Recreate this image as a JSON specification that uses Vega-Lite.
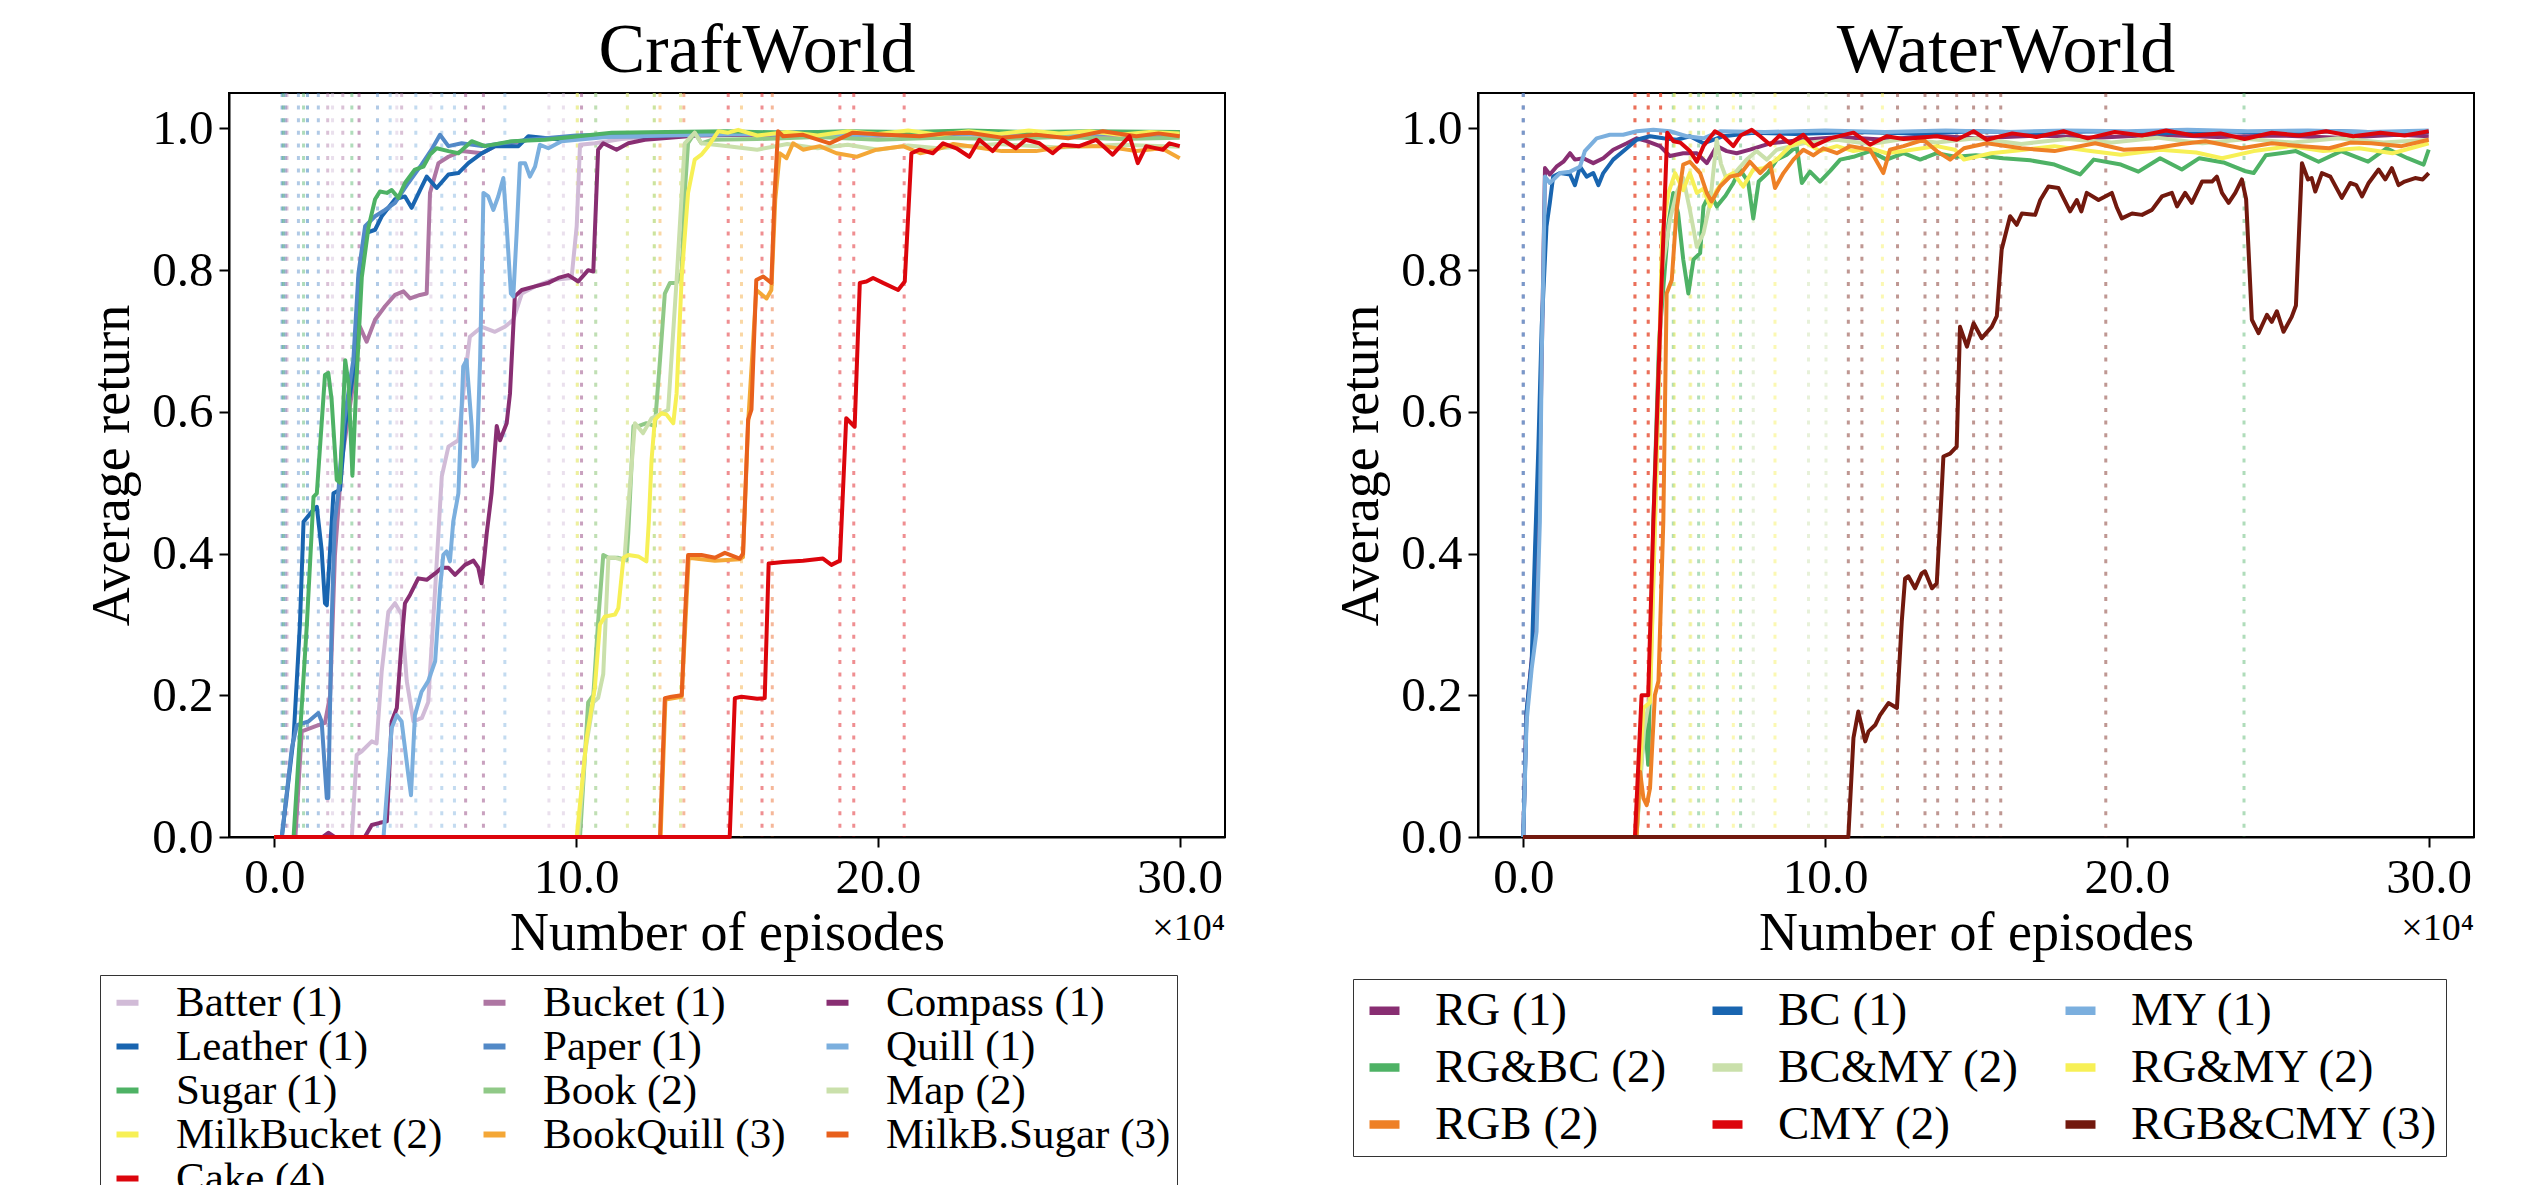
{
  "$schema": "https://vega.github.io/schema/vega-lite/v6.json",
  "background": "white",
  "padding": {"left": 84, "top": 14, "right": 40, "bottom": 0},
  "spacing": 107,
  "resolve": {"scale": {"color": "independent", "stroke": "independent"}, "legend": {"color": "independent", "stroke": "independent"}},
  "datasets": {
    "craftV": [
      {"t":"Leather (1)","x":0.26},{"t":"Sugar (1)","x":0.31},{"t":"Paper (1)","x":0.37},{"t":"Bucket (1)","x":0.42},
      {"t":"Paper (1)","x":0.8},{"t":"Sugar (1)","x":0.97},{"t":"Leather (1)","x":1.1},{"t":"Paper (1)","x":1.46},
      {"t":"Bucket (1)","x":1.77},{"t":"Batter (1)","x":1.93},{"t":"Bucket (1)","x":2.27},{"t":"Sugar (1)","x":2.57},
      {"t":"Compass (1)","x":2.81},{"t":"Paper (1)","x":3.42},{"t":"Quill (1)","x":3.84},{"t":"Batter (1)","x":4.06},
      {"t":"Bucket (1)","x":4.22},{"t":"Quill (1)","x":4.69},{"t":"Batter (1)","x":5.19},{"t":"Quill (1)","x":5.55},
      {"t":"Quill (1)","x":5.97},{"t":"Compass (1)","x":6.34},{"t":"Compass (1)","x":6.93},{"t":"Quill (1)","x":7.64},
      {"t":"Batter (1)","x":9.1},{"t":"Batter (1)","x":9.58},{"t":"Map (2)","x":10.04},{"t":"MilkBucket (2)","x":10.04},
      {"t":"Compass (1)","x":10.18},{"t":"Map (2)","x":10.65},{"t":"Book (2)","x":10.65},{"t":"MilkBucket (2)","x":11.7},
      {"t":"Map (2)","x":11.7},{"t":"MilkBucket (2)","x":12.59},{"t":"Book (2)","x":12.59},{"t":"BookQuill (3)","x":12.78},
      {"t":"MilkBucket (2)","x":13.46},{"t":"Map (2)","x":13.46},{"t":"MilkB.Sugar (3)","x":13.57},{"t":"Cake (4)","x":15.04},
      {"t":"BookQuill (3)","x":15.48},{"t":"Cake (4)","x":16.16},{"t":"MilkB.Sugar (3)","x":16.5},{"t":"Cake (4)","x":18.74},
      {"t":"Cake (4)","x":19.2},{"t":"Cake (4)","x":20.87}
    ],
    "craft": [
      {"t":"Batter (1)","x":0,"y":0},{"t":"Batter (1)","x":2.57,"y":0},{"t":"Batter (1)","x":2.73,"y":0.116},{"t":"Batter (1)","x":2.9,"y":0.121},{"t":"Batter (1)","x":3.23,"y":0.135},{"t":"Batter (1)","x":3.39,"y":0.132},{"t":"Batter (1)","x":3.56,"y":0.234},{"t":"Batter (1)","x":3.78,"y":0.318},{"t":"Batter (1)","x":4.0,"y":0.33},{"t":"Batter (1)","x":4.22,"y":0.314},{"t":"Batter (1)","x":4.39,"y":0.22},{"t":"Batter (1)","x":4.61,"y":0.163},{"t":"Batter (1)","x":4.89,"y":0.168},{"t":"Batter (1)","x":5.1,"y":0.19},{"t":"Batter (1)","x":5.33,"y":0.35},{"t":"Batter (1)","x":5.55,"y":0.509},{"t":"Batter (1)","x":5.77,"y":0.551},{"t":"Batter (1)","x":6.1,"y":0.56},{"t":"Batter (1)","x":6.32,"y":0.65},{"t":"Batter (1)","x":6.48,"y":0.706},{"t":"Batter (1)","x":6.88,"y":0.72},{"t":"Batter (1)","x":7.31,"y":0.713},{"t":"Batter (1)","x":7.64,"y":0.72},{"t":"Batter (1)","x":7.92,"y":0.73},{"t":"Batter (1)","x":8.2,"y":0.767},{"t":"Batter (1)","x":8.64,"y":0.777},{"t":"Batter (1)","x":9.19,"y":0.786},{"t":"Batter (1)","x":9.85,"y":0.789},{"t":"Batter (1)","x":10.02,"y":0.862},{"t":"Batter (1)","x":10.13,"y":0.977},{"t":"Batter (1)","x":10.62,"y":0.979},{"t":"Batter (1)","x":11.5,"y":0.985},{"t":"Batter (1)","x":13,"y":0.99},{"t":"Batter (1)","x":15,"y":0.992},{"t":"Batter (1)","x":18,"y":0.99},{"t":"Batter (1)","x":21,"y":0.993},{"t":"Batter (1)","x":24,"y":0.991},{"t":"Batter (1)","x":27,"y":0.993},{"t":"Batter (1)","x":30,"y":0.992},
      {"t":"Bucket (1)","x":0,"y":0},{"t":"Bucket (1)","x":0.7,"y":0},{"t":"Bucket (1)","x":0.91,"y":0.149},{"t":"Bucket (1)","x":1.35,"y":0.156},{"t":"Bucket (1)","x":1.68,"y":0.161},{"t":"Bucket (1)","x":1.85,"y":0.2},{"t":"Bucket (1)","x":2.01,"y":0.398},{"t":"Bucket (1)","x":2.24,"y":0.532},{"t":"Bucket (1)","x":2.57,"y":0.626},{"t":"Bucket (1)","x":2.84,"y":0.72},{"t":"Bucket (1)","x":3.06,"y":0.699},{"t":"Bucket (1)","x":3.34,"y":0.73},{"t":"Bucket (1)","x":3.67,"y":0.749},{"t":"Bucket (1)","x":4.0,"y":0.765},{"t":"Bucket (1)","x":4.28,"y":0.77},{"t":"Bucket (1)","x":4.5,"y":0.76},{"t":"Bucket (1)","x":4.83,"y":0.765},{"t":"Bucket (1)","x":5.05,"y":0.767},{"t":"Bucket (1)","x":5.16,"y":0.909},{"t":"Bucket (1)","x":5.44,"y":0.951},{"t":"Bucket (1)","x":5.77,"y":0.96},{"t":"Bucket (1)","x":6.21,"y":0.968},{"t":"Bucket (1)","x":6.88,"y":0.965},{"t":"Bucket (1)","x":7.31,"y":0.975},{"t":"Bucket (1)","x":8.42,"y":0.984},{"t":"Bucket (1)","x":10,"y":0.988},{"t":"Bucket (1)","x":12,"y":0.99},{"t":"Bucket (1)","x":15,"y":0.992},{"t":"Bucket (1)","x":18,"y":0.99},{"t":"Bucket (1)","x":21,"y":0.993},{"t":"Bucket (1)","x":24,"y":0.991},{"t":"Bucket (1)","x":27,"y":0.992},{"t":"Bucket (1)","x":30,"y":0.99},
      {"t":"Compass (1)","x":0,"y":0},{"t":"Compass (1)","x":1.6,"y":0},{"t":"Compass (1)","x":1.79,"y":0.006},{"t":"Compass (1)","x":2.0,"y":0},{"t":"Compass (1)","x":3.0,"y":0},{"t":"Compass (1)","x":3.23,"y":0.017},{"t":"Compass (1)","x":3.5,"y":0.02},{"t":"Compass (1)","x":3.73,"y":0.022},{"t":"Compass (1)","x":3.89,"y":0.163},{"t":"Compass (1)","x":4.06,"y":0.182},{"t":"Compass (1)","x":4.22,"y":0.276},{"t":"Compass (1)","x":4.33,"y":0.33},{"t":"Compass (1)","x":4.5,"y":0.342},{"t":"Compass (1)","x":4.77,"y":0.365},{"t":"Compass (1)","x":5.05,"y":0.363},{"t":"Compass (1)","x":5.33,"y":0.372},{"t":"Compass (1)","x":5.55,"y":0.38},{"t":"Compass (1)","x":5.77,"y":0.38},{"t":"Compass (1)","x":5.99,"y":0.37},{"t":"Compass (1)","x":6.32,"y":0.384},{"t":"Compass (1)","x":6.6,"y":0.39},{"t":"Compass (1)","x":6.76,"y":0.38},{"t":"Compass (1)","x":6.87,"y":0.358},{"t":"Compass (1)","x":6.98,"y":0.403},{"t":"Compass (1)","x":7.04,"y":0.429},{"t":"Compass (1)","x":7.2,"y":0.485},{"t":"Compass (1)","x":7.37,"y":0.58},{"t":"Compass (1)","x":7.48,"y":0.56},{"t":"Compass (1)","x":7.7,"y":0.584},{"t":"Compass (1)","x":7.81,"y":0.626},{"t":"Compass (1)","x":7.97,"y":0.763},{"t":"Compass (1)","x":8.2,"y":0.772},{"t":"Compass (1)","x":8.64,"y":0.777},{"t":"Compass (1)","x":9.08,"y":0.782},{"t":"Compass (1)","x":9.41,"y":0.789},{"t":"Compass (1)","x":9.74,"y":0.793},{"t":"Compass (1)","x":10.07,"y":0.784},{"t":"Compass (1)","x":10.4,"y":0.8},{"t":"Compass (1)","x":10.57,"y":0.798},{"t":"Compass (1)","x":10.73,"y":0.97},{"t":"Compass (1)","x":10.9,"y":0.979},{"t":"Compass (1)","x":11.34,"y":0.97},{"t":"Compass (1)","x":11.73,"y":0.979},{"t":"Compass (1)","x":12.28,"y":0.984},{"t":"Compass (1)","x":14,"y":0.99},{"t":"Compass (1)","x":17,"y":0.992},{"t":"Compass (1)","x":20,"y":0.99},{"t":"Compass (1)","x":23,"y":0.993},{"t":"Compass (1)","x":26,"y":0.991},{"t":"Compass (1)","x":30,"y":0.992},
      {"t":"Leather (1)","x":0,"y":0},{"t":"Leather (1)","x":0.25,"y":0},{"t":"Leather (1)","x":0.64,"y":0.14},{"t":"Leather (1)","x":0.85,"y":0.3},{"t":"Leather (1)","x":0.97,"y":0.445},{"t":"Leather (1)","x":1.3,"y":0.462},{"t":"Leather (1)","x":1.41,"y":0.466},{"t":"Leather (1)","x":1.57,"y":0.405},{"t":"Leather (1)","x":1.68,"y":0.33},{"t":"Leather (1)","x":1.74,"y":0.327},{"t":"Leather (1)","x":1.96,"y":0.485},{"t":"Leather (1)","x":2.18,"y":0.49},{"t":"Leather (1)","x":2.35,"y":0.58},{"t":"Leather (1)","x":2.68,"y":0.673},{"t":"Leather (1)","x":2.79,"y":0.786},{"t":"Leather (1)","x":3.01,"y":0.852},{"t":"Leather (1)","x":3.34,"y":0.857},{"t":"Leather (1)","x":3.56,"y":0.876},{"t":"Leather (1)","x":4.0,"y":0.9},{"t":"Leather (1)","x":4.33,"y":0.904},{"t":"Leather (1)","x":4.55,"y":0.888},{"t":"Leather (1)","x":4.83,"y":0.913},{"t":"Leather (1)","x":5.05,"y":0.932},{"t":"Leather (1)","x":5.38,"y":0.916},{"t":"Leather (1)","x":5.77,"y":0.935},{"t":"Leather (1)","x":6.1,"y":0.937},{"t":"Leather (1)","x":6.43,"y":0.951},{"t":"Leather (1)","x":6.88,"y":0.965},{"t":"Leather (1)","x":7.31,"y":0.975},{"t":"Leather (1)","x":8.09,"y":0.975},{"t":"Leather (1)","x":8.42,"y":0.989},{"t":"Leather (1)","x":9.52,"y":0.984},{"t":"Leather (1)","x":10.62,"y":0.989},{"t":"Leather (1)","x":12.28,"y":0.989},{"t":"Leather (1)","x":15,"y":0.994},{"t":"Leather (1)","x":18,"y":0.993},{"t":"Leather (1)","x":21,"y":0.995},{"t":"Leather (1)","x":24,"y":0.993},{"t":"Leather (1)","x":27,"y":0.995},{"t":"Leather (1)","x":30,"y":0.994},
      {"t":"Paper (1)","x":0,"y":0},{"t":"Paper (1)","x":0.25,"y":0},{"t":"Paper (1)","x":0.58,"y":0.125},{"t":"Paper (1)","x":0.75,"y":0.158},{"t":"Paper (1)","x":1.13,"y":0.163},{"t":"Paper (1)","x":1.46,"y":0.175},{"t":"Paper (1)","x":1.57,"y":0.163},{"t":"Paper (1)","x":1.74,"y":0.055},{"t":"Paper (1)","x":1.79,"y":0.055},{"t":"Paper (1)","x":1.9,"y":0.3},{"t":"Paper (1)","x":2.0,"y":0.445},{"t":"Paper (1)","x":2.12,"y":0.485},{"t":"Paper (1)","x":2.29,"y":0.58},{"t":"Paper (1)","x":2.62,"y":0.673},{"t":"Paper (1)","x":2.79,"y":0.796},{"t":"Paper (1)","x":3.01,"y":0.862},{"t":"Paper (1)","x":3.34,"y":0.876},{"t":"Paper (1)","x":3.67,"y":0.885},{"t":"Paper (1)","x":4.0,"y":0.895},{"t":"Paper (1)","x":4.44,"y":0.923},{"t":"Paper (1)","x":4.88,"y":0.949},{"t":"Paper (1)","x":5.21,"y":0.97},{"t":"Paper (1)","x":5.49,"y":0.991},{"t":"Paper (1)","x":5.77,"y":0.975},{"t":"Paper (1)","x":6.21,"y":0.979},{"t":"Paper (1)","x":6.88,"y":0.975},{"t":"Paper (1)","x":8.42,"y":0.984},{"t":"Paper (1)","x":10,"y":0.99},{"t":"Paper (1)","x":12,"y":0.992},{"t":"Paper (1)","x":15,"y":0.993},{"t":"Paper (1)","x":18,"y":0.995},{"t":"Paper (1)","x":21,"y":0.993},{"t":"Paper (1)","x":24,"y":0.995},{"t":"Paper (1)","x":27,"y":0.994},{"t":"Paper (1)","x":30,"y":0.995},
      {"t":"Quill (1)","x":0,"y":0},{"t":"Quill (1)","x":3.62,"y":0},{"t":"Quill (1)","x":3.89,"y":0.154},{"t":"Quill (1)","x":4.06,"y":0.172},{"t":"Quill (1)","x":4.22,"y":0.163},{"t":"Quill (1)","x":4.44,"y":0.088},{"t":"Quill (1)","x":4.53,"y":0.059},{"t":"Quill (1)","x":4.66,"y":0.172},{"t":"Quill (1)","x":4.88,"y":0.205},{"t":"Quill (1)","x":5.1,"y":0.22},{"t":"Quill (1)","x":5.33,"y":0.248},{"t":"Quill (1)","x":5.49,"y":0.35},{"t":"Quill (1)","x":5.6,"y":0.398},{"t":"Quill (1)","x":5.71,"y":0.403},{"t":"Quill (1)","x":5.82,"y":0.389},{"t":"Quill (1)","x":5.93,"y":0.445},{"t":"Quill (1)","x":6.1,"y":0.485},{"t":"Quill (1)","x":6.26,"y":0.664},{"t":"Quill (1)","x":6.37,"y":0.673},{"t":"Quill (1)","x":6.54,"y":0.58},{"t":"Quill (1)","x":6.6,"y":0.523},{"t":"Quill (1)","x":6.71,"y":0.532},{"t":"Quill (1)","x":6.82,"y":0.673},{"t":"Quill (1)","x":6.93,"y":0.909},{"t":"Quill (1)","x":7.09,"y":0.904},{"t":"Quill (1)","x":7.26,"y":0.885},{"t":"Quill (1)","x":7.42,"y":0.904},{"t":"Quill (1)","x":7.59,"y":0.93},{"t":"Quill (1)","x":7.7,"y":0.862},{"t":"Quill (1)","x":7.84,"y":0.767},{"t":"Quill (1)","x":7.92,"y":0.763},{"t":"Quill (1)","x":8.03,"y":0.852},{"t":"Quill (1)","x":8.14,"y":0.951},{"t":"Quill (1)","x":8.31,"y":0.951},{"t":"Quill (1)","x":8.47,"y":0.932},{"t":"Quill (1)","x":8.64,"y":0.946},{"t":"Quill (1)","x":8.8,"y":0.977},{"t":"Quill (1)","x":9.08,"y":0.972},{"t":"Quill (1)","x":9.52,"y":0.982},{"t":"Quill (1)","x":11,"y":0.988},{"t":"Quill (1)","x":13,"y":0.99},{"t":"Quill (1)","x":16,"y":0.992},{"t":"Quill (1)","x":19,"y":0.99},{"t":"Quill (1)","x":22,"y":0.993},{"t":"Quill (1)","x":25,"y":0.991},{"t":"Quill (1)","x":28,"y":0.993},{"t":"Quill (1)","x":30,"y":0.992},
      {"t":"Sugar (1)","x":0,"y":0},{"t":"Sugar (1)","x":0.64,"y":0},{"t":"Sugar (1)","x":1.08,"y":0.3},{"t":"Sugar (1)","x":1.3,"y":0.48},{"t":"Sugar (1)","x":1.41,"y":0.485},{"t":"Sugar (1)","x":1.68,"y":0.652},{"t":"Sugar (1)","x":1.79,"y":0.655},{"t":"Sugar (1)","x":1.9,"y":0.617},{"t":"Sugar (1)","x":2.07,"y":0.504},{"t":"Sugar (1)","x":2.18,"y":0.5},{"t":"Sugar (1)","x":2.35,"y":0.673},{"t":"Sugar (1)","x":2.46,"y":0.64},{"t":"Sugar (1)","x":2.59,"y":0.51},{"t":"Sugar (1)","x":2.73,"y":0.65},{"t":"Sugar (1)","x":2.9,"y":0.79},{"t":"Sugar (1)","x":3.12,"y":0.86},{"t":"Sugar (1)","x":3.34,"y":0.9},{"t":"Sugar (1)","x":3.5,"y":0.911},{"t":"Sugar (1)","x":3.73,"y":0.909},{"t":"Sugar (1)","x":3.89,"y":0.913},{"t":"Sugar (1)","x":4.11,"y":0.902},{"t":"Sugar (1)","x":4.33,"y":0.923},{"t":"Sugar (1)","x":4.66,"y":0.942},{"t":"Sugar (1)","x":4.94,"y":0.946},{"t":"Sugar (1)","x":5.16,"y":0.963},{"t":"Sugar (1)","x":5.38,"y":0.972},{"t":"Sugar (1)","x":5.77,"y":0.968},{"t":"Sugar (1)","x":6.1,"y":0.965},{"t":"Sugar (1)","x":6.54,"y":0.982},{"t":"Sugar (1)","x":6.98,"y":0.975},{"t":"Sugar (1)","x":7.86,"y":0.982},{"t":"Sugar (1)","x":8.97,"y":0.984},{"t":"Sugar (1)","x":10.07,"y":0.989},{"t":"Sugar (1)","x":11.18,"y":0.994},{"t":"Sugar (1)","x":13,"y":0.995},{"t":"Sugar (1)","x":15,"y":0.996},{"t":"Sugar (1)","x":17,"y":0.994},{"t":"Sugar (1)","x":19,"y":0.996},{"t":"Sugar (1)","x":21,"y":0.995},{"t":"Sugar (1)","x":23,"y":0.997},{"t":"Sugar (1)","x":25,"y":0.995},{"t":"Sugar (1)","x":27,"y":0.996},{"t":"Sugar (1)","x":30,"y":0.995},
      {"t":"Book (2)","x":0,"y":0},{"t":"Book (2)","x":10.13,"y":0},{"t":"Book (2)","x":10.4,"y":0.19},{"t":"Book (2)","x":10.57,"y":0.2},{"t":"Book (2)","x":10.73,"y":0.304},{"t":"Book (2)","x":10.9,"y":0.398},{"t":"Book (2)","x":11.07,"y":0.394},{"t":"Book (2)","x":11.4,"y":0.394},{"t":"Book (2)","x":11.67,"y":0.391},{"t":"Book (2)","x":11.73,"y":0.43},{"t":"Book (2)","x":11.9,"y":0.58},{"t":"Book (2)","x":12.06,"y":0.58},{"t":"Book (2)","x":12.33,"y":0.584},{"t":"Book (2)","x":12.61,"y":0.58},{"t":"Book (2)","x":12.78,"y":0.673},{"t":"Book (2)","x":12.94,"y":0.767},{"t":"Book (2)","x":13.11,"y":0.782},{"t":"Book (2)","x":13.33,"y":0.782},{"t":"Book (2)","x":13.5,"y":0.796},{"t":"Book (2)","x":13.6,"y":0.909},{"t":"Book (2)","x":13.71,"y":0.979},{"t":"Book (2)","x":13.93,"y":0.994},{"t":"Book (2)","x":14.15,"y":0.979},{"t":"Book (2)","x":14.49,"y":0.984},{"t":"Book (2)","x":16,"y":0.985},{"t":"Book (2)","x":18,"y":0.988},{"t":"Book (2)","x":20,"y":0.984},{"t":"Book (2)","x":22,"y":0.987},{"t":"Book (2)","x":24,"y":0.985},{"t":"Book (2)","x":26,"y":0.988},{"t":"Book (2)","x":28,"y":0.985},{"t":"Book (2)","x":30,"y":0.987},
      {"t":"Map (2)","x":0,"y":0},{"t":"Map (2)","x":10.07,"y":0},{"t":"Map (2)","x":10.3,"y":0.12},{"t":"Map (2)","x":10.57,"y":0.19},{"t":"Map (2)","x":10.73,"y":0.196},{"t":"Map (2)","x":10.9,"y":0.23},{"t":"Map (2)","x":11.07,"y":0.394},{"t":"Map (2)","x":11.3,"y":0.394},{"t":"Map (2)","x":11.6,"y":0.39},{"t":"Map (2)","x":11.7,"y":0.45},{"t":"Map (2)","x":11.95,"y":0.584},{"t":"Map (2)","x":12.22,"y":0.57},{"t":"Map (2)","x":12.5,"y":0.591},{"t":"Map (2)","x":12.83,"y":0.598},{"t":"Map (2)","x":13.05,"y":0.603},{"t":"Map (2)","x":13.33,"y":0.786},{"t":"Map (2)","x":13.6,"y":0.979},{"t":"Map (2)","x":13.93,"y":0.994},{"t":"Map (2)","x":14.15,"y":0.979},{"t":"Map (2)","x":15.04,"y":0.975},{"t":"Map (2)","x":16,"y":0.97},{"t":"Map (2)","x":17,"y":0.978},{"t":"Map (2)","x":18,"y":0.972},{"t":"Map (2)","x":19,"y":0.977},{"t":"Map (2)","x":20,"y":0.97},{"t":"Map (2)","x":21,"y":0.976},{"t":"Map (2)","x":22,"y":0.972},{"t":"Map (2)","x":24,"y":0.978},{"t":"Map (2)","x":26,"y":0.973},{"t":"Map (2)","x":28,"y":0.977},{"t":"Map (2)","x":30,"y":0.974},
      {"t":"MilkBucket (2)","x":0,"y":0},{"t":"MilkBucket (2)","x":10.02,"y":0},{"t":"MilkBucket (2)","x":10.35,"y":0.14},{"t":"MilkBucket (2)","x":10.62,"y":0.21},{"t":"MilkBucket (2)","x":10.79,"y":0.3},{"t":"MilkBucket (2)","x":10.95,"y":0.311},{"t":"MilkBucket (2)","x":11.29,"y":0.314},{"t":"MilkBucket (2)","x":11.4,"y":0.323},{"t":"MilkBucket (2)","x":11.57,"y":0.394},{"t":"MilkBucket (2)","x":11.73,"y":0.398},{"t":"MilkBucket (2)","x":12.06,"y":0.396},{"t":"MilkBucket (2)","x":12.33,"y":0.389},{"t":"MilkBucket (2)","x":12.41,"y":0.445},{"t":"MilkBucket (2)","x":12.5,"y":0.532},{"t":"MilkBucket (2)","x":12.61,"y":0.589},{"t":"MilkBucket (2)","x":12.83,"y":0.598},{"t":"MilkBucket (2)","x":13.0,"y":0.596},{"t":"MilkBucket (2)","x":13.22,"y":0.584},{"t":"MilkBucket (2)","x":13.33,"y":0.626},{"t":"MilkBucket (2)","x":13.5,"y":0.791},{"t":"MilkBucket (2)","x":13.71,"y":0.909},{"t":"MilkBucket (2)","x":13.93,"y":0.956},{"t":"MilkBucket (2)","x":14.15,"y":0.963},{"t":"MilkBucket (2)","x":14.38,"y":0.975},{"t":"MilkBucket (2)","x":14.71,"y":0.996},{"t":"MilkBucket (2)","x":15.04,"y":0.994},{"t":"MilkBucket (2)","x":15.37,"y":0.998},{"t":"MilkBucket (2)","x":16,"y":0.99},{"t":"MilkBucket (2)","x":17,"y":0.995},{"t":"MilkBucket (2)","x":18,"y":0.99},{"t":"MilkBucket (2)","x":19,"y":0.996},{"t":"MilkBucket (2)","x":20,"y":0.992},{"t":"MilkBucket (2)","x":21,"y":0.997},{"t":"MilkBucket (2)","x":22,"y":0.991},{"t":"MilkBucket (2)","x":23,"y":0.996},{"t":"MilkBucket (2)","x":24,"y":0.992},{"t":"MilkBucket (2)","x":25,"y":0.997},{"t":"MilkBucket (2)","x":26,"y":0.993},{"t":"MilkBucket (2)","x":27,"y":0.996},{"t":"MilkBucket (2)","x":28,"y":0.991},{"t":"MilkBucket (2)","x":29,"y":0.995},{"t":"MilkBucket (2)","x":30,"y":0.993},
      {"t":"BookQuill (3)","x":0,"y":0},{"t":"BookQuill (3)","x":12.8,"y":0},{"t":"BookQuill (3)","x":12.96,"y":0.194},{"t":"BookQuill (3)","x":13.5,"y":0.198},{"t":"BookQuill (3)","x":13.62,"y":0.3},{"t":"BookQuill (3)","x":13.73,"y":0.394},{"t":"BookQuill (3)","x":14.15,"y":0.392},{"t":"BookQuill (3)","x":14.6,"y":0.39},{"t":"BookQuill (3)","x":15.42,"y":0.392},{"t":"BookQuill (3)","x":15.53,"y":0.395},{"t":"BookQuill (3)","x":15.7,"y":0.584},{"t":"BookQuill (3)","x":15.97,"y":0.772},{"t":"BookQuill (3)","x":16.31,"y":0.76},{"t":"BookQuill (3)","x":16.47,"y":0.772},{"t":"BookQuill (3)","x":16.6,"y":0.9},{"t":"BookQuill (3)","x":16.75,"y":0.965},{"t":"BookQuill (3)","x":16.97,"y":0.958},{"t":"BookQuill (3)","x":17.19,"y":0.979},{"t":"BookQuill (3)","x":17.52,"y":0.97},{"t":"BookQuill (3)","x":18.07,"y":0.975},{"t":"BookQuill (3)","x":18.63,"y":0.965},{"t":"BookQuill (3)","x":19.29,"y":0.96},{"t":"BookQuill (3)","x":19.95,"y":0.97},{"t":"BookQuill (3)","x":20.83,"y":0.975},{"t":"BookQuill (3)","x":21.4,"y":0.965},{"t":"BookQuill (3)","x":21.93,"y":0.97},{"t":"BookQuill (3)","x":22.5,"y":0.978},{"t":"BookQuill (3)","x":23.03,"y":0.975},{"t":"BookQuill (3)","x":24.1,"y":0.968},{"t":"BookQuill (3)","x":25.24,"y":0.968},{"t":"BookQuill (3)","x":26.3,"y":0.975},{"t":"BookQuill (3)","x":27.45,"y":0.975},{"t":"BookQuill (3)","x":28.56,"y":0.968},{"t":"BookQuill (3)","x":29.4,"y":0.972},{"t":"BookQuill (3)","x":30,"y":0.958},
      {"t":"MilkB.Sugar (3)","x":0,"y":0},{"t":"MilkB.Sugar (3)","x":12.78,"y":0},{"t":"MilkB.Sugar (3)","x":12.94,"y":0.196},{"t":"MilkB.Sugar (3)","x":13.16,"y":0.198},{"t":"MilkB.Sugar (3)","x":13.5,"y":0.2},{"t":"MilkB.Sugar (3)","x":13.6,"y":0.304},{"t":"MilkB.Sugar (3)","x":13.71,"y":0.398},{"t":"MilkB.Sugar (3)","x":14.15,"y":0.398},{"t":"MilkB.Sugar (3)","x":14.6,"y":0.394},{"t":"MilkB.Sugar (3)","x":14.93,"y":0.401},{"t":"MilkB.Sugar (3)","x":15.42,"y":0.393},{"t":"MilkB.Sugar (3)","x":15.53,"y":0.4},{"t":"MilkB.Sugar (3)","x":15.7,"y":0.589},{"t":"MilkB.Sugar (3)","x":15.81,"y":0.603},{"t":"MilkB.Sugar (3)","x":15.97,"y":0.786},{"t":"MilkB.Sugar (3)","x":16.2,"y":0.791},{"t":"MilkB.Sugar (3)","x":16.47,"y":0.782},{"t":"MilkB.Sugar (3)","x":16.58,"y":0.909},{"t":"MilkB.Sugar (3)","x":16.69,"y":0.996},{"t":"MilkB.Sugar (3)","x":16.86,"y":0.989},{"t":"MilkB.Sugar (3)","x":17.52,"y":0.991},{"t":"MilkB.Sugar (3)","x":18.4,"y":0.979},{"t":"MilkB.Sugar (3)","x":19.17,"y":0.994},{"t":"MilkB.Sugar (3)","x":20.27,"y":0.991},{"t":"MilkB.Sugar (3)","x":21.38,"y":0.989},{"t":"MilkB.Sugar (3)","x":22.2,"y":0.993},{"t":"MilkB.Sugar (3)","x":23.03,"y":0.994},{"t":"MilkB.Sugar (3)","x":24.1,"y":0.987},{"t":"MilkB.Sugar (3)","x":25.24,"y":0.991},{"t":"MilkB.Sugar (3)","x":26.3,"y":0.986},{"t":"MilkB.Sugar (3)","x":27.45,"y":0.996},{"t":"MilkB.Sugar (3)","x":28.56,"y":0.989},{"t":"MilkB.Sugar (3)","x":29.3,"y":0.993},{"t":"MilkB.Sugar (3)","x":30,"y":0.989},
      {"t":"Cake (4)","x":0,"y":0},{"t":"Cake (4)","x":15.09,"y":0},{"t":"Cake (4)","x":15.26,"y":0.196},{"t":"Cake (4)","x":15.48,"y":0.198},{"t":"Cake (4)","x":16.0,"y":0.195},{"t":"Cake (4)","x":16.25,"y":0.196},{"t":"Cake (4)","x":16.38,"y":0.386},{"t":"Cake (4)","x":16.86,"y":0.388},{"t":"Cake (4)","x":17.52,"y":0.39},{"t":"Cake (4)","x":18.18,"y":0.393},{"t":"Cake (4)","x":18.46,"y":0.384},{"t":"Cake (4)","x":18.74,"y":0.39},{"t":"Cake (4)","x":18.95,"y":0.591},{"t":"Cake (4)","x":19.23,"y":0.579},{"t":"Cake (4)","x":19.4,"y":0.782},{"t":"Cake (4)","x":19.62,"y":0.784},{"t":"Cake (4)","x":19.84,"y":0.789},{"t":"Cake (4)","x":20.17,"y":0.782},{"t":"Cake (4)","x":20.67,"y":0.772},{"t":"Cake (4)","x":20.89,"y":0.784},{"t":"Cake (4)","x":21.11,"y":0.965},{"t":"Cake (4)","x":21.38,"y":0.97},{"t":"Cake (4)","x":21.82,"y":0.965},{"t":"Cake (4)","x":22.16,"y":0.979},{"t":"Cake (4)","x":22.6,"y":0.972},{"t":"Cake (4)","x":23.03,"y":0.96},{"t":"Cake (4)","x":23.36,"y":0.984},{"t":"Cake (4)","x":23.8,"y":0.968},{"t":"Cake (4)","x":24.13,"y":0.984},{"t":"Cake (4)","x":24.57,"y":0.972},{"t":"Cake (4)","x":24.9,"y":0.984},{"t":"Cake (4)","x":25.35,"y":0.979},{"t":"Cake (4)","x":25.79,"y":0.965},{"t":"Cake (4)","x":26.12,"y":0.977},{"t":"Cake (4)","x":26.67,"y":0.975},{"t":"Cake (4)","x":27.23,"y":0.984},{"t":"Cake (4)","x":27.78,"y":0.963},{"t":"Cake (4)","x":28.34,"y":0.989},{"t":"Cake (4)","x":28.61,"y":0.951},{"t":"Cake (4)","x":28.89,"y":0.975},{"t":"Cake (4)","x":29.44,"y":0.97},{"t":"Cake (4)","x":29.66,"y":0.979},{"t":"Cake (4)","x":30,"y":0.975}
    ],
    "waterV": [
      {"t":"RG (1)","x":0},{"t":"BC (1)","x":0},{"t":"MY (1)","x":0},
      {"t":"RGB (2)","x":3.7},{"t":"CMY (2)","x":3.7},{"t":"RGB (2)","x":4.14},{"t":"CMY (2)","x":4.14},{"t":"RGB (2)","x":4.55},{"t":"CMY (2)","x":4.55},
      {"t":"RG&BC (2)","x":4.97},{"t":"RG&MY (2)","x":5.01},{"t":"BC&MY (2)","x":5.52},{"t":"RG&MY (2)","x":5.55},{"t":"RG&BC (2)","x":5.81},{"t":"RG&MY (2)","x":5.97},
      {"t":"RG&BC (2)","x":6.43},{"t":"RG&MY (2)","x":6.96},{"t":"RG&BC (2)","x":7.2},{"t":"BC&MY (2)","x":7.62},{"t":"RG&MY (2)","x":8.34},{"t":"BC&MY (2)","x":9.45},{"t":"BC&MY (2)","x":10.03},
      {"t":"RGB&CMY (3)","x":10.77},{"t":"RGB&CMY (3)","x":11.22},{"t":"RG&MY (2)","x":11.9},{"t":"RGB&CMY (3)","x":12.4},{"t":"RGB&CMY (3)","x":13.31},{"t":"RGB&CMY (3)","x":13.73},
      {"t":"RGB&CMY (3)","x":14.36},{"t":"RGB&CMY (3)","x":14.92},{"t":"RGB&CMY (3)","x":15.36},{"t":"RGB&CMY (3)","x":15.82},{"t":"RGB&CMY (3)","x":19.3},{"t":"RG&BC (2)","x":23.88}
    ],
    "water": [
      {"t":"RG (1)","x":0,"y":0},{"t":"RG (1)","x":0.1,"y":0.17},{"t":"RG (1)","x":0.3,"y":0.26},{"t":"RG (1)","x":0.45,"y":0.35},{"t":"RG (1)","x":0.58,"y":0.6},{"t":"RG (1)","x":0.72,"y":0.944},{"t":"RG (1)","x":0.88,"y":0.935},{"t":"RG (1)","x":1.1,"y":0.946},{"t":"RG (1)","x":1.33,"y":0.953},{"t":"RG (1)","x":1.55,"y":0.965},{"t":"RG (1)","x":1.71,"y":0.956},{"t":"RG (1)","x":1.99,"y":0.958},{"t":"RG (1)","x":2.32,"y":0.951},{"t":"RG (1)","x":2.65,"y":0.958},{"t":"RG (1)","x":2.98,"y":0.97},{"t":"RG (1)","x":3.43,"y":0.979},{"t":"RG (1)","x":3.76,"y":0.986},{"t":"RG (1)","x":4.09,"y":0.982},{"t":"RG (1)","x":4.53,"y":0.975},{"t":"RG (1)","x":4.86,"y":0.961},{"t":"RG (1)","x":5.3,"y":0.965},{"t":"RG (1)","x":5.75,"y":0.965},{"t":"RG (1)","x":6.08,"y":0.951},{"t":"RG (1)","x":6.41,"y":0.975},{"t":"RG (1)","x":6.74,"y":0.968},{"t":"RG (1)","x":7.07,"y":0.965},{"t":"RG (1)","x":7.51,"y":0.97},{"t":"RG (1)","x":8.18,"y":0.979},{"t":"RG (1)","x":9.28,"y":0.984},{"t":"RG (1)","x":10.5,"y":0.988},{"t":"RG (1)","x":12,"y":0.984},{"t":"RG (1)","x":13.5,"y":0.99},{"t":"RG (1)","x":15,"y":0.986},{"t":"RG (1)","x":17,"y":0.99},{"t":"RG (1)","x":19,"y":0.987},{"t":"RG (1)","x":21,"y":0.991},{"t":"RG (1)","x":23,"y":0.988},{"t":"RG (1)","x":25,"y":0.99},{"t":"RG (1)","x":27,"y":0.987},{"t":"RG (1)","x":29,"y":0.991},{"t":"RG (1)","x":30,"y":0.989},
      {"t":"BC (1)","x":0,"y":0},{"t":"BC (1)","x":0.11,"y":0.177},{"t":"BC (1)","x":0.28,"y":0.248},{"t":"BC (1)","x":0.39,"y":0.408},{"t":"BC (1)","x":0.5,"y":0.55},{"t":"BC (1)","x":0.61,"y":0.72},{"t":"BC (1)","x":0.77,"y":0.862},{"t":"BC (1)","x":0.88,"y":0.895},{"t":"BC (1)","x":0.99,"y":0.932},{"t":"BC (1)","x":1.22,"y":0.937},{"t":"BC (1)","x":1.55,"y":0.935},{"t":"BC (1)","x":1.71,"y":0.92},{"t":"BC (1)","x":1.88,"y":0.946},{"t":"BC (1)","x":2.1,"y":0.932},{"t":"BC (1)","x":2.32,"y":0.937},{"t":"BC (1)","x":2.49,"y":0.92},{"t":"BC (1)","x":2.65,"y":0.937},{"t":"BC (1)","x":2.98,"y":0.956},{"t":"BC (1)","x":3.43,"y":0.972},{"t":"BC (1)","x":3.76,"y":0.984},{"t":"BC (1)","x":4.2,"y":0.989},{"t":"BC (1)","x":4.64,"y":0.986},{"t":"BC (1)","x":5.08,"y":0.984},{"t":"BC (1)","x":5.52,"y":0.989},{"t":"BC (1)","x":5.97,"y":0.979},{"t":"BC (1)","x":6.63,"y":0.989},{"t":"BC (1)","x":7.62,"y":0.994},{"t":"BC (1)","x":9,"y":0.992},{"t":"BC (1)","x":11,"y":0.995},{"t":"BC (1)","x":13,"y":0.993},{"t":"BC (1)","x":15,"y":0.996},{"t":"BC (1)","x":17,"y":0.994},{"t":"BC (1)","x":19,"y":0.996},{"t":"BC (1)","x":21,"y":0.993},{"t":"BC (1)","x":23,"y":0.996},{"t":"BC (1)","x":25,"y":0.994},{"t":"BC (1)","x":27,"y":0.996},{"t":"BC (1)","x":29,"y":0.994},{"t":"BC (1)","x":30,"y":0.995},
      {"t":"MY (1)","x":0,"y":0},{"t":"MY (1)","x":0.11,"y":0.163},{"t":"MY (1)","x":0.28,"y":0.238},{"t":"MY (1)","x":0.44,"y":0.29},{"t":"MY (1)","x":0.55,"y":0.445},{"t":"MY (1)","x":0.61,"y":0.673},{"t":"MY (1)","x":0.72,"y":0.932},{"t":"MY (1)","x":0.88,"y":0.923},{"t":"MY (1)","x":1.22,"y":0.937},{"t":"MY (1)","x":1.55,"y":0.939},{"t":"MY (1)","x":1.88,"y":0.946},{"t":"MY (1)","x":2.04,"y":0.968},{"t":"MY (1)","x":2.43,"y":0.986},{"t":"MY (1)","x":2.87,"y":0.991},{"t":"MY (1)","x":3.31,"y":0.991},{"t":"MY (1)","x":3.76,"y":0.996},{"t":"MY (1)","x":4.31,"y":0.998},{"t":"MY (1)","x":4.86,"y":0.996},{"t":"MY (1)","x":5.41,"y":0.989},{"t":"MY (1)","x":5.97,"y":0.986},{"t":"MY (1)","x":6.52,"y":0.996},{"t":"MY (1)","x":8,"y":0.995},{"t":"MY (1)","x":10,"y":0.997},{"t":"MY (1)","x":12,"y":0.995},{"t":"MY (1)","x":14,"y":0.997},{"t":"MY (1)","x":16,"y":0.995},{"t":"MY (1)","x":18,"y":0.997},{"t":"MY (1)","x":20,"y":0.996},{"t":"MY (1)","x":22,"y":0.998},{"t":"MY (1)","x":24,"y":0.996},{"t":"MY (1)","x":26,"y":0.997},{"t":"MY (1)","x":28,"y":0.995},{"t":"MY (1)","x":30,"y":0.997},
      {"t":"RG&BC (2)","x":0,"y":0},{"t":"RG&BC (2)","x":3.75,"y":0},{"t":"RG&BC (2)","x":3.9,"y":0.1},{"t":"RG&BC (2)","x":4.03,"y":0.163},{"t":"RG&BC (2)","x":4.14,"y":0.102},{"t":"RG&BC (2)","x":4.31,"y":0.445},{"t":"RG&BC (2)","x":4.5,"y":0.7},{"t":"RG&BC (2)","x":4.81,"y":0.866},{"t":"RG&BC (2)","x":4.97,"y":0.909},{"t":"RG&BC (2)","x":5.13,"y":0.88},{"t":"RG&BC (2)","x":5.3,"y":0.815},{"t":"RG&BC (2)","x":5.47,"y":0.767},{"t":"RG&BC (2)","x":5.64,"y":0.815},{"t":"RG&BC (2)","x":5.86,"y":0.824},{"t":"RG&BC (2)","x":5.97,"y":0.89},{"t":"RG&BC (2)","x":6.19,"y":0.909},{"t":"RG&BC (2)","x":6.41,"y":0.89},{"t":"RG&BC (2)","x":6.7,"y":0.905},{"t":"RG&BC (2)","x":6.96,"y":0.923},{"t":"RG&BC (2)","x":7.18,"y":0.942},{"t":"RG&BC (2)","x":7.45,"y":0.925},{"t":"RG&BC (2)","x":7.62,"y":0.873},{"t":"RG&BC (2)","x":7.8,"y":0.925},{"t":"RG&BC (2)","x":8.1,"y":0.937},{"t":"RG&BC (2)","x":8.4,"y":0.956},{"t":"RG&BC (2)","x":8.73,"y":0.963},{"t":"RG&BC (2)","x":9.06,"y":0.975},{"t":"RG&BC (2)","x":9.23,"y":0.923},{"t":"RG&BC (2)","x":9.5,"y":0.939},{"t":"RG&BC (2)","x":9.83,"y":0.925},{"t":"RG&BC (2)","x":10.17,"y":0.94},{"t":"RG&BC (2)","x":10.5,"y":0.956},{"t":"RG&BC (2)","x":10.94,"y":0.96},{"t":"RG&BC (2)","x":11.49,"y":0.968},{"t":"RG&BC (2)","x":12.04,"y":0.956},{"t":"RG&BC (2)","x":12.6,"y":0.965},{"t":"RG&BC (2)","x":13.15,"y":0.956},{"t":"RG&BC (2)","x":13.7,"y":0.965},{"t":"RG&BC (2)","x":14.31,"y":0.96},{"t":"RG&BC (2)","x":15.0,"y":0.962},{"t":"RG&BC (2)","x":15.9,"y":0.958},{"t":"RG&BC (2)","x":16.8,"y":0.955},{"t":"RG&BC (2)","x":17.6,"y":0.949},{"t":"RG&BC (2)","x":18.45,"y":0.935},{"t":"RG&BC (2)","x":18.9,"y":0.956},{"t":"RG&BC (2)","x":19.8,"y":0.949},{"t":"RG&BC (2)","x":20.38,"y":0.939},{"t":"RG&BC (2)","x":21.1,"y":0.958},{"t":"RG&BC (2)","x":21.82,"y":0.942},{"t":"RG&BC (2)","x":22.4,"y":0.958},{"t":"RG&BC (2)","x":23.2,"y":0.952},{"t":"RG&BC (2)","x":23.9,"y":0.94},{"t":"RG&BC (2)","x":24.2,"y":0.937},{"t":"RG&BC (2)","x":24.6,"y":0.962},{"t":"RG&BC (2)","x":25.6,"y":0.968},{"t":"RG&BC (2)","x":26.35,"y":0.953},{"t":"RG&BC (2)","x":27.1,"y":0.968},{"t":"RG&BC (2)","x":27.99,"y":0.953},{"t":"RG&BC (2)","x":28.6,"y":0.972},{"t":"RG&BC (2)","x":29.3,"y":0.958},{"t":"RG&BC (2)","x":29.83,"y":0.949},{"t":"RG&BC (2)","x":30,"y":0.97},
      {"t":"BC&MY (2)","x":0,"y":0},{"t":"BC&MY (2)","x":3.75,"y":0},{"t":"BC&MY (2)","x":4.0,"y":0.15},{"t":"BC&MY (2)","x":4.2,"y":0.2},{"t":"BC&MY (2)","x":4.4,"y":0.5},{"t":"BC&MY (2)","x":4.6,"y":0.8},{"t":"BC&MY (2)","x":4.86,"y":0.871},{"t":"BC&MY (2)","x":5.08,"y":0.909},{"t":"BC&MY (2)","x":5.3,"y":0.93},{"t":"BC&MY (2)","x":5.52,"y":0.885},{"t":"BC&MY (2)","x":5.75,"y":0.833},{"t":"BC&MY (2)","x":5.97,"y":0.852},{"t":"BC&MY (2)","x":6.19,"y":0.895},{"t":"BC&MY (2)","x":6.41,"y":0.984},{"t":"BC&MY (2)","x":6.55,"y":0.95},{"t":"BC&MY (2)","x":6.74,"y":0.928},{"t":"BC&MY (2)","x":7.07,"y":0.94},{"t":"BC&MY (2)","x":7.4,"y":0.956},{"t":"BC&MY (2)","x":7.73,"y":0.968},{"t":"BC&MY (2)","x":8.07,"y":0.956},{"t":"BC&MY (2)","x":8.4,"y":0.97},{"t":"BC&MY (2)","x":9.28,"y":0.979},{"t":"BC&MY (2)","x":10.39,"y":0.984},{"t":"BC&MY (2)","x":11.5,"y":0.978},{"t":"BC&MY (2)","x":12.6,"y":0.985},{"t":"BC&MY (2)","x":13.7,"y":0.98},{"t":"BC&MY (2)","x":15,"y":0.986},{"t":"BC&MY (2)","x":16.5,"y":0.978},{"t":"BC&MY (2)","x":18,"y":0.985},{"t":"BC&MY (2)","x":19.5,"y":0.98},{"t":"BC&MY (2)","x":21,"y":0.987},{"t":"BC&MY (2)","x":22.5,"y":0.979},{"t":"BC&MY (2)","x":24,"y":0.985},{"t":"BC&MY (2)","x":25.5,"y":0.98},{"t":"BC&MY (2)","x":27,"y":0.986},{"t":"BC&MY (2)","x":28.5,"y":0.98},{"t":"BC&MY (2)","x":30,"y":0.984},
      {"t":"RG&MY (2)","x":0,"y":0},{"t":"RG&MY (2)","x":3.75,"y":0},{"t":"RG&MY (2)","x":3.98,"y":0.182},{"t":"RG&MY (2)","x":4.2,"y":0.19},{"t":"RG&MY (2)","x":4.4,"y":0.5},{"t":"RG&MY (2)","x":4.6,"y":0.85},{"t":"RG&MY (2)","x":4.81,"y":0.909},{"t":"RG&MY (2)","x":5.03,"y":0.937},{"t":"RG&MY (2)","x":5.3,"y":0.913},{"t":"RG&MY (2)","x":5.52,"y":0.937},{"t":"RG&MY (2)","x":5.75,"y":0.909},{"t":"RG&MY (2)","x":5.97,"y":0.915},{"t":"RG&MY (2)","x":6.19,"y":0.89},{"t":"RG&MY (2)","x":6.41,"y":0.913},{"t":"RG&MY (2)","x":6.74,"y":0.932},{"t":"RG&MY (2)","x":6.96,"y":0.937},{"t":"RG&MY (2)","x":7.29,"y":0.918},{"t":"RG&MY (2)","x":7.62,"y":0.942},{"t":"RG&MY (2)","x":7.96,"y":0.944},{"t":"RG&MY (2)","x":8.4,"y":0.956},{"t":"RG&MY (2)","x":8.84,"y":0.975},{"t":"RG&MY (2)","x":9.28,"y":0.982},{"t":"RG&MY (2)","x":9.83,"y":0.968},{"t":"RG&MY (2)","x":10.39,"y":0.975},{"t":"RG&MY (2)","x":10.94,"y":0.968},{"t":"RG&MY (2)","x":11.49,"y":0.972},{"t":"RG&MY (2)","x":12.04,"y":0.965},{"t":"RG&MY (2)","x":12.6,"y":0.968},{"t":"RG&MY (2)","x":13.7,"y":0.975},{"t":"RG&MY (2)","x":14.3,"y":0.97},{"t":"RG&MY (2)","x":14.6,"y":0.956},{"t":"RG&MY (2)","x":15.5,"y":0.965},{"t":"RG&MY (2)","x":16.6,"y":0.97},{"t":"RG&MY (2)","x":17.6,"y":0.975},{"t":"RG&MY (2)","x":18.8,"y":0.968},{"t":"RG&MY (2)","x":19.8,"y":0.963},{"t":"RG&MY (2)","x":21.1,"y":0.97},{"t":"RG&MY (2)","x":22.3,"y":0.966},{"t":"RG&MY (2)","x":23.15,"y":0.958},{"t":"RG&MY (2)","x":24.2,"y":0.968},{"t":"RG&MY (2)","x":25.4,"y":0.975},{"t":"RG&MY (2)","x":26.5,"y":0.968},{"t":"RG&MY (2)","x":27.7,"y":0.972},{"t":"RG&MY (2)","x":28.8,"y":0.965},{"t":"RG&MY (2)","x":30,"y":0.979},
      {"t":"RGB (2)","x":0,"y":0},{"t":"RGB (2)","x":3.75,"y":0},{"t":"RGB (2)","x":3.87,"y":0.092},{"t":"RGB (2)","x":3.98,"y":0.055},{"t":"RGB (2)","x":4.09,"y":0.045},{"t":"RGB (2)","x":4.2,"y":0.069},{"t":"RGB (2)","x":4.36,"y":0.2},{"t":"RGB (2)","x":4.48,"y":0.22},{"t":"RGB (2)","x":4.64,"y":0.445},{"t":"RGB (2)","x":4.75,"y":0.767},{"t":"RGB (2)","x":4.92,"y":0.786},{"t":"RGB (2)","x":5.08,"y":0.885},{"t":"RGB (2)","x":5.3,"y":0.949},{"t":"RGB (2)","x":5.52,"y":0.953},{"t":"RGB (2)","x":5.86,"y":0.937},{"t":"RGB (2)","x":6.08,"y":0.909},{"t":"RGB (2)","x":6.24,"y":0.897},{"t":"RGB (2)","x":6.52,"y":0.918},{"t":"RGB (2)","x":6.85,"y":0.932},{"t":"RGB (2)","x":7.18,"y":0.935},{"t":"RGB (2)","x":7.51,"y":0.953},{"t":"RGB (2)","x":7.85,"y":0.937},{"t":"RGB (2)","x":8.18,"y":0.951},{"t":"RGB (2)","x":8.34,"y":0.916},{"t":"RGB (2)","x":8.62,"y":0.937},{"t":"RGB (2)","x":8.95,"y":0.956},{"t":"RGB (2)","x":9.28,"y":0.97},{"t":"RGB (2)","x":9.61,"y":0.962},{"t":"RGB (2)","x":9.94,"y":0.972},{"t":"RGB (2)","x":10.39,"y":0.965},{"t":"RGB (2)","x":10.83,"y":0.975},{"t":"RGB (2)","x":11.49,"y":0.97},{"t":"RGB (2)","x":11.93,"y":0.937},{"t":"RGB (2)","x":12.15,"y":0.97},{"t":"RGB (2)","x":12.6,"y":0.975},{"t":"RGB (2)","x":13.26,"y":0.984},{"t":"RGB (2)","x":13.7,"y":0.968},{"t":"RGB (2)","x":14.14,"y":0.956},{"t":"RGB (2)","x":14.6,"y":0.972},{"t":"RGB (2)","x":15.36,"y":0.979},{"t":"RGB (2)","x":16.5,"y":0.972},{"t":"RGB (2)","x":17.6,"y":0.968},{"t":"RGB (2)","x":18.95,"y":0.979},{"t":"RGB (2)","x":19.9,"y":0.97},{"t":"RGB (2)","x":20.9,"y":0.972},{"t":"RGB (2)","x":21.8,"y":0.978},{"t":"RGB (2)","x":22.6,"y":0.982},{"t":"RGB (2)","x":23.8,"y":0.972},{"t":"RGB (2)","x":24.8,"y":0.979},{"t":"RGB (2)","x":25.8,"y":0.975},{"t":"RGB (2)","x":26.7,"y":0.972},{"t":"RGB (2)","x":27.4,"y":0.98},{"t":"RGB (2)","x":28.1,"y":0.979},{"t":"RGB (2)","x":29.1,"y":0.975},{"t":"RGB (2)","x":30,"y":0.984},
      {"t":"CMY (2)","x":0,"y":0},{"t":"CMY (2)","x":3.7,"y":0},{"t":"CMY (2)","x":3.92,"y":0.2},{"t":"CMY (2)","x":4.14,"y":0.2},{"t":"CMY (2)","x":4.31,"y":0.445},{"t":"CMY (2)","x":4.6,"y":0.8},{"t":"CMY (2)","x":4.77,"y":0.994},{"t":"CMY (2)","x":4.97,"y":0.982},{"t":"CMY (2)","x":5.2,"y":0.98},{"t":"CMY (2)","x":5.52,"y":0.968},{"t":"CMY (2)","x":5.75,"y":0.953},{"t":"CMY (2)","x":5.97,"y":0.975},{"t":"CMY (2)","x":6.35,"y":0.996},{"t":"CMY (2)","x":6.63,"y":0.989},{"t":"CMY (2)","x":6.96,"y":0.975},{"t":"CMY (2)","x":7.2,"y":0.99},{"t":"CMY (2)","x":7.57,"y":0.998},{"t":"CMY (2)","x":7.85,"y":0.989},{"t":"CMY (2)","x":8.18,"y":0.977},{"t":"CMY (2)","x":8.5,"y":0.99},{"t":"CMY (2)","x":8.84,"y":0.979},{"t":"CMY (2)","x":9.28,"y":0.991},{"t":"CMY (2)","x":9.61,"y":0.975},{"t":"CMY (2)","x":10.17,"y":0.986},{"t":"CMY (2)","x":10.94,"y":0.994},{"t":"CMY (2)","x":11.49,"y":0.977},{"t":"CMY (2)","x":12.04,"y":0.989},{"t":"CMY (2)","x":12.6,"y":0.985},{"t":"CMY (2)","x":13.7,"y":0.989},{"t":"CMY (2)","x":14.36,"y":0.984},{"t":"CMY (2)","x":14.92,"y":0.996},{"t":"CMY (2)","x":15.36,"y":0.984},{"t":"CMY (2)","x":16.2,"y":0.993},{"t":"CMY (2)","x":17.0,"y":0.988},{"t":"CMY (2)","x":17.9,"y":0.996},{"t":"CMY (2)","x":18.7,"y":0.986},{"t":"CMY (2)","x":19.6,"y":0.995},{"t":"CMY (2)","x":20.5,"y":0.99},{"t":"CMY (2)","x":21.3,"y":0.997},{"t":"CMY (2)","x":22.2,"y":0.99},{"t":"CMY (2)","x":23.1,"y":0.993},{"t":"CMY (2)","x":23.9,"y":0.985},{"t":"CMY (2)","x":24.8,"y":0.994},{"t":"CMY (2)","x":25.7,"y":0.99},{"t":"CMY (2)","x":26.6,"y":0.996},{"t":"CMY (2)","x":27.5,"y":0.989},{"t":"CMY (2)","x":28.4,"y":0.994},{"t":"CMY (2)","x":29.2,"y":0.99},{"t":"CMY (2)","x":30,"y":0.996},
      {"t":"RGB&CMY (3)","x":0,"y":0},{"t":"RGB&CMY (3)","x":10.77,"y":0},{"t":"RGB&CMY (3)","x":10.94,"y":0.14},{"t":"RGB&CMY (3)","x":11.1,"y":0.177},{"t":"RGB&CMY (3)","x":11.33,"y":0.135},{"t":"RGB&CMY (3)","x":11.44,"y":0.149},{"t":"RGB&CMY (3)","x":11.66,"y":0.158},{"t":"RGB&CMY (3)","x":11.82,"y":0.172},{"t":"RGB&CMY (3)","x":12.1,"y":0.189},{"t":"RGB&CMY (3)","x":12.38,"y":0.182},{"t":"RGB&CMY (3)","x":12.54,"y":0.304},{"t":"RGB&CMY (3)","x":12.65,"y":0.365},{"t":"RGB&CMY (3)","x":12.76,"y":0.368},{"t":"RGB&CMY (3)","x":12.98,"y":0.351},{"t":"RGB&CMY (3)","x":13.2,"y":0.372},{"t":"RGB&CMY (3)","x":13.31,"y":0.375},{"t":"RGB&CMY (3)","x":13.54,"y":0.351},{"t":"RGB&CMY (3)","x":13.7,"y":0.358},{"t":"RGB&CMY (3)","x":13.81,"y":0.445},{"t":"RGB&CMY (3)","x":13.92,"y":0.537},{"t":"RGB&CMY (3)","x":14.14,"y":0.541},{"t":"RGB&CMY (3)","x":14.36,"y":0.551},{"t":"RGB&CMY (3)","x":14.47,"y":0.72},{"t":"RGB&CMY (3)","x":14.7,"y":0.692},{"t":"RGB&CMY (3)","x":14.92,"y":0.725},{"t":"RGB&CMY (3)","x":15.19,"y":0.704},{"t":"RGB&CMY (3)","x":15.52,"y":0.72},{"t":"RGB&CMY (3)","x":15.69,"y":0.735},{"t":"RGB&CMY (3)","x":15.85,"y":0.829},{"t":"RGB&CMY (3)","x":16.13,"y":0.876},{"t":"RGB&CMY (3)","x":16.35,"y":0.864},{"t":"RGB&CMY (3)","x":16.52,"y":0.88},{"t":"RGB&CMY (3)","x":16.96,"y":0.878},{"t":"RGB&CMY (3)","x":17.13,"y":0.899},{"t":"RGB&CMY (3)","x":17.4,"y":0.918},{"t":"RGB&CMY (3)","x":17.73,"y":0.916},{"t":"RGB&CMY (3)","x":18.12,"y":0.883},{"t":"RGB&CMY (3)","x":18.34,"y":0.899},{"t":"RGB&CMY (3)","x":18.49,"y":0.883},{"t":"RGB&CMY (3)","x":18.67,"y":0.909},{"t":"RGB&CMY (3)","x":19.06,"y":0.899},{"t":"RGB&CMY (3)","x":19.5,"y":0.909},{"t":"RGB&CMY (3)","x":19.67,"y":0.888},{"t":"RGB&CMY (3)","x":19.83,"y":0.873},{"t":"RGB&CMY (3)","x":20.17,"y":0.88},{"t":"RGB&CMY (3)","x":20.5,"y":0.878},{"t":"RGB&CMY (3)","x":20.83,"y":0.885},{"t":"RGB&CMY (3)","x":21.16,"y":0.904},{"t":"RGB&CMY (3)","x":21.49,"y":0.909},{"t":"RGB&CMY (3)","x":21.66,"y":0.89},{"t":"RGB&CMY (3)","x":21.93,"y":0.909},{"t":"RGB&CMY (3)","x":22.15,"y":0.895},{"t":"RGB&CMY (3)","x":22.49,"y":0.925},{"t":"RGB&CMY (3)","x":22.82,"y":0.925},{"t":"RGB&CMY (3)","x":22.98,"y":0.932},{"t":"RGB&CMY (3)","x":23.15,"y":0.909},{"t":"RGB&CMY (3)","x":23.37,"y":0.895},{"t":"RGB&CMY (3)","x":23.59,"y":0.909},{"t":"RGB&CMY (3)","x":23.81,"y":0.928},{"t":"RGB&CMY (3)","x":23.95,"y":0.9},{"t":"RGB&CMY (3)","x":24.14,"y":0.73},{"t":"RGB&CMY (3)","x":24.36,"y":0.711},{"t":"RGB&CMY (3)","x":24.64,"y":0.737},{"t":"RGB&CMY (3)","x":24.8,"y":0.727},{"t":"RGB&CMY (3)","x":24.97,"y":0.742},{"t":"RGB&CMY (3)","x":25.19,"y":0.713},{"t":"RGB&CMY (3)","x":25.46,"y":0.734},{"t":"RGB&CMY (3)","x":25.6,"y":0.75},{"t":"RGB&CMY (3)","x":25.8,"y":0.951},{"t":"RGB&CMY (3)","x":26.0,"y":0.928},{"t":"RGB&CMY (3)","x":26.12,"y":0.93},{"t":"RGB&CMY (3)","x":26.24,"y":0.911},{"t":"RGB&CMY (3)","x":26.46,"y":0.937},{"t":"RGB&CMY (3)","x":26.74,"y":0.932},{"t":"RGB&CMY (3)","x":27.12,"y":0.902},{"t":"RGB&CMY (3)","x":27.4,"y":0.923},{"t":"RGB&CMY (3)","x":27.6,"y":0.92},{"t":"RGB&CMY (3)","x":27.79,"y":0.904},{"t":"RGB&CMY (3)","x":28.01,"y":0.923},{"t":"RGB&CMY (3)","x":28.34,"y":0.942},{"t":"RGB&CMY (3)","x":28.56,"y":0.928},{"t":"RGB&CMY (3)","x":28.78,"y":0.944},{"t":"RGB&CMY (3)","x":29.0,"y":0.92},{"t":"RGB&CMY (3)","x":29.2,"y":0.925},{"t":"RGB&CMY (3)","x":29.55,"y":0.93},{"t":"RGB&CMY (3)","x":29.8,"y":0.928},{"t":"RGB&CMY (3)","x":30,"y":0.937}
    ]
  },
  "hconcat": [
    {
      "width": 996, "height": 744,
      "title": {"text": "CraftWorld"},
      "layer": [
        {
          "data": {"name": "craftV"},
          "mark": {"type": "rule", "strokeDash": [4, 8.6], "strokeWidth": 3, "opacity": 0.45},
          "encoding": {
            "x": {"field": "x", "type": "quantitative", "scale": {"domain": [-1.5, 31.5], "nice": false, "zero": false}, "axis": {"title": "Number of episodes", "values": [0, 10, 20, 30], "format": ".1f"}},
            "stroke": {"field": "t", "type": "nominal", "scale": {"domain": ["Cake (4)","MilkB.Sugar (3)","BookQuill (3)","MilkBucket (2)","Map (2)","Book (2)","Sugar (1)","Quill (1)","Paper (1)","Leather (1)","Compass (1)","Bucket (1)","Batter (1)"], "range": ["#DC050C","#E8601C","#F4A736","#F7F056","#CAE0AB","#90C987","#4EB265","#7BAFDE","#5289C7","#1965B0","#882E72","#AE76A3","#D1BBD7"]}, "legend": null}
          }
        },
        {
          "data": {"name": "craft"},
          "mark": {"type": "line", "strokeWidth": 4, "strokeJoin": "round"},
          "encoding": {
            "x": {"field": "x", "type": "quantitative", "scale": {"domain": [-1.5, 31.5], "nice": false, "zero": false}, "axis": {"title": "Number of episodes", "values": [0, 10, 20, 30], "format": ".1f"}},
            "y": {"field": "y", "type": "quantitative", "scale": {"domain": [0, 1.05], "nice": false, "zero": false}, "axis": {"title": "Average return", "values": [0, 0.2, 0.4, 0.6, 0.8, 1.0], "format": ".1f"}},
            "color": {"field": "t", "type": "nominal", "scale": {"domain": ["Batter (1)","Bucket (1)","Compass (1)","Leather (1)","Paper (1)","Quill (1)","Sugar (1)","Book (2)","Map (2)","MilkBucket (2)","BookQuill (3)","MilkB.Sugar (3)","Cake (4)"], "range": ["#D1BBD7","#AE76A3","#882E72","#1965B0","#5289C7","#7BAFDE","#4EB265","#90C987","#CAE0AB","#F7F056","#F4A736","#E8601C","#DC050C"]},
              "legend": {"title": null, "orient": "none", "direction": "horizontal", "legendX": -129, "legendY": 882, "columns": 3, "symbolType": "stroke", "symbolSize": 484, "symbolStrokeWidth": 6, "labelFontSize": 43, "labelOffset": 27, "labelLimit": 1000, "columnPadding": 28, "rowPadding": -4, "padding": 6, "strokeColor": "#333333", "fillColor": "white", "labelColor": "black"}}
          }
        },
        {
          "data": {"values": [{"label": "×10⁴"}]},
          "mark": {"type": "text", "align": "right", "baseline": "alphabetic", "fontSize": 38, "color": "black"},
          "encoding": {
            "x": {"datum": 31.5, "type": "quantitative", "scale": {"domain": [-1.5, 31.5], "nice": false, "zero": false}, "axis": {"title": "Number of episodes", "values": [0, 10, 20, 30], "format": ".1f"}},
            "y": {"datum": -0.145, "type": "quantitative", "scale": {"domain": [0, 1.05], "nice": false, "zero": false}, "axis": {"title": "Average return", "values": [0, 0.2, 0.4, 0.6, 0.8, 1.0], "format": ".1f"}},
            "text": {"field": "label"}
          }
        }
      ]
    },
    {
      "width": 996, "height": 744,
      "title": {"text": "WaterWorld"},
      "layer": [
        {
          "data": {"name": "waterV"},
          "mark": {"type": "rule", "strokeDash": [4, 8.6], "strokeWidth": 3, "opacity": 0.45},
          "encoding": {
            "x": {"field": "x", "type": "quantitative", "scale": {"domain": [-1.5, 31.5], "nice": false, "zero": false}, "axis": {"title": "Number of episodes", "values": [0, 10, 20, 30], "format": ".1f"}},
            "stroke": {"field": "t", "type": "nominal", "scale": {"domain": ["RGB&CMY (3)","CMY (2)","RGB (2)","RG&MY (2)","BC&MY (2)","RG&BC (2)","MY (1)","BC (1)","RG (1)"], "range": ["#72190E","#DC050C","#EE8026","#F7F056","#CAE0AB","#4EB265","#7BAFDE","#1965B0","#882E72"]}, "legend": null}
          }
        },
        {
          "data": {"name": "water"},
          "mark": {"type": "line", "strokeWidth": 4, "strokeJoin": "round"},
          "encoding": {
            "x": {"field": "x", "type": "quantitative", "scale": {"domain": [-1.5, 31.5], "nice": false, "zero": false}, "axis": {"title": "Number of episodes", "values": [0, 10, 20, 30], "format": ".1f"}},
            "y": {"field": "y", "type": "quantitative", "scale": {"domain": [0, 1.05], "nice": false, "zero": false}, "axis": {"title": "Average return", "values": [0, 0.2, 0.4, 0.6, 0.8, 1.0], "format": ".1f"}},
            "color": {"field": "t", "type": "nominal", "scale": {"domain": ["RG (1)","BC (1)","MY (1)","RG&BC (2)","BC&MY (2)","RG&MY (2)","RGB (2)","CMY (2)","RGB&CMY (3)"], "range": ["#882E72","#1965B0","#7BAFDE","#4EB265","#CAE0AB","#F7F056","#EE8026","#DC050C","#72190E"]},
              "legend": {"title": null, "orient": "none", "direction": "horizontal", "legendX": -125, "legendY": 886, "columns": 3, "symbolType": "stroke", "symbolSize": 900, "symbolStrokeWidth": 8.5, "labelFontSize": 47, "labelOffset": 27, "labelLimit": 1000, "columnPadding": 28, "rowPadding": 9, "padding": 8, "strokeColor": "#333333", "fillColor": "white", "labelColor": "black"}}
          }
        },
        {
          "data": {"values": [{"label": "×10⁴"}]},
          "mark": {"type": "text", "align": "right", "baseline": "alphabetic", "fontSize": 38, "color": "black"},
          "encoding": {
            "x": {"datum": 31.5, "type": "quantitative", "scale": {"domain": [-1.5, 31.5], "nice": false, "zero": false}, "axis": {"title": "Number of episodes", "values": [0, 10, 20, 30], "format": ".1f"}},
            "y": {"datum": -0.145, "type": "quantitative", "scale": {"domain": [0, 1.05], "nice": false, "zero": false}, "axis": {"title": "Average return", "values": [0, 0.2, 0.4, 0.6, 0.8, 1.0], "format": ".1f"}},
            "text": {"field": "label"}
          }
        }
      ]
    }
  ],
  "config": {
    "font": "Liberation Serif",
    "view": {"stroke": "black", "strokeWidth": 2},
    "axis": {"grid": false, "domainColor": "black", "domainWidth": 2, "tickColor": "black", "tickWidth": 2, "tickSize": 10, "labelFontSize": 49, "labelColor": "black", "labelPadding": 6, "titleFontSize": 54, "titleFontWeight": "normal", "titleColor": "black", "labelFlush": false, "labelOverlap": false},
    "axisX": {"titlePadding": 4},
    "axisY": {"titlePadding": 12},
    "title": {"fontSize": 70, "fontWeight": "normal", "color": "black", "anchor": "middle", "frame": "group", "dx": 30, "offset": 5}
  }
}
